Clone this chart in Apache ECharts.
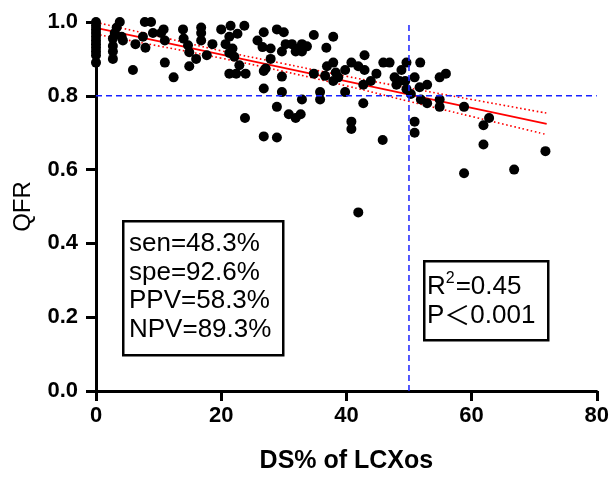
<!DOCTYPE html>
<html>
<head>
<meta charset="utf-8">
<script src="https://cdn.jsdelivr.net/npm/echarts@6/dist/echarts.min.js"></script>
<style>
html,body{margin:0;padding:0;background:#fff;}
#chart{width:612px;height:479px;}
</style>
</head>
<body>
<div id="chart"></div>
<script>
// DS% of LCXos (x) and QFR (y) for each lesion
const dsPct = [
  0,0,0,0,0,0,0,0,0,0,0,
  3.8,3.3,3.0,4.1,2.7,4.3,2.7,2.7,2.7,
  5.9,6.3,7.8,8.8,7.5,9.1,10.4,10.8,11.0,7.9,11.0,12.4,
  13.9,14.0,14.7,14.9,16.0,14.9,
  16.8,16.8,16.8,18.6,17.7,
  20.0,21.5,23.7,21.3,22.6,20.7,21.8,22.1,21.3,22.9,21.3,22.4,23.9,
  25.8,26.8,28.9,30.0,26.6,27.9,29.7,30.3,31.3,31.9,32.4,32.9,32.9,33.7,34.8,36.8,37.9,
  27.9,27.1,26.8,29.7,
  23.8,26.8,29.7,28.9,32.9,30.8,31.9,32.7,26.8,28.9,
  34.8,35.8,35.8,36.9,37.9,38.3,38.7,37.9,36.6,39.8,39.8,
  40.8,41.9,42.9,42.9,42.7,42.7,43.9,44.8,45.9,46.9,40.8,40.8,45.8,41.9,
  47.7,48.0,48.8,49.4,48.5,49.6,51.8,50.9,49.6,50.3,51.7,51.9,52.9,52.9,50.9,50.9,
  54.9,55.9,54.9,54.9,58.8,62.8,61.9,61.9,58.8,66.8,71.8
];
const qfr = [
  1.0,0.99,0.98,0.97,0.96,0.95,0.94,0.93,0.92,0.91,0.89,
  1.0,0.985,0.97,0.96,0.955,0.95,0.935,0.92,0.90,
  0.87,0.94,1.0,1.0,0.96,0.97,0.97,0.98,0.95,0.93,0.89,0.85,
  0.98,0.955,0.937,0.918,0.90,0.88,
  0.985,0.97,0.95,0.94,0.91,
  0.98,0.99,0.99,0.96,0.968,0.94,0.928,0.906,0.916,0.883,0.86,0.86,0.86,
  0.95,0.972,0.98,0.972,0.932,0.928,0.92,0.94,0.94,0.92,0.928,0.94,0.92,0.934,0.965,0.93,0.96,
  0.90,0.874,0.867,0.852,
  0.74,0.82,0.81,0.77,0.79,0.75,0.74,0.75,0.69,0.687,
  0.86,0.81,0.79,0.88,0.89,0.863,0.85,0.84,0.854,0.87,0.81,
  0.89,0.88,0.91,0.87,0.83,0.78,0.84,0.86,0.89,0.89,0.73,0.71,0.68,0.484,
  0.85,0.83,0.87,0.84,0.84,0.89,0.89,0.85,0.818,0.805,0.823,0.79,0.83,0.78,0.73,0.70,
  0.85,0.86,0.79,0.77,0.77,0.74,0.72,0.668,0.59,0.60,0.65
];

// Regression line and its confidence band
const fitX = [0, 72];
const fitY = [0.984, 0.724];
const bandX = [0, 10, 20, 30, 40, 50, 60, 72];
const bandUpper = [0.999, 0.961, 0.922, 0.887, 0.853, 0.821, 0.790, 0.753];
const bandLower = [0.967, 0.935, 0.902, 0.866, 0.827, 0.785, 0.744, 0.695];

// Cut-off reference lines
const cutoffDS = 50;
const cutoffQFR = 0.8;

// Axis ticks
const xTickLabels = ['0', '20', '40', '60', '80'];
const yTickLabels = ['0.0', '0.2', '0.4', '0.6', '0.8', '1.0'];

// Annotation texts
const statsLines = ['sen=48.3%', 'spe=92.6%', 'PPV=58.3%', 'NPV=89.3%'];
const r2Text = ['R', '2', '=0.45'];
const pText = ['P', '\uFF1C', '0.001'];

const points = dsPct.map((x, i) => [x, qfr[i]]);
const fitData = fitX.map((x, i) => [x, fitY[i]]);
const upperData = bandX.map((x, i) => [x, bandUpper[i]]);
const lowerData = bandX.map((x, i) => [x, bandLower[i]]);

const chart = echarts.init(document.getElementById('chart'), null, {renderer: 'canvas'});
const FONT = 'Liberation Sans, Arial, sans-serif';
const blue = '#1a22ff';

chart.setOption({
  animation: false,
  backgroundColor: '#ffffff',
  grid: {left: 96, right: 12, top: 22, bottom: 83, containLabel: false},
  xAxis: {
    type: 'value', min: 0, max: 80, interval: 20,
    name: 'DS% of LCXos', nameLocation: 'middle', nameGap: 58,
    nameTextStyle: {fontFamily: FONT, fontSize: 25, fontWeight: 'bold', color: '#000'},
    axisLine: {show: true, onZero: false, lineStyle: {color: '#000', width: 3}},
    axisTick: {show: true, length: 10, lineStyle: {color: '#000', width: 3}},
    axisLabel: {margin: 14, fontFamily: FONT, fontSize: 22, fontWeight: 'bold', color: '#000',
      formatter: v => xTickLabels[Math.round(v / 20)]},
    splitLine: {show: false}
  },
  yAxis: {
    type: 'value', min: 0, max: 1, interval: 0.2,
    name: 'QFR', nameLocation: 'middle', nameGap: 61, nameRotate: 90,
    nameTextStyle: {fontFamily: FONT, fontSize: 24, color: '#000'},
    axisLine: {show: true, onZero: false, lineStyle: {color: '#000', width: 3}},
    axisTick: {show: true, length: 10, lineStyle: {color: '#000', width: 3}},
    axisLabel: {margin: 18, fontFamily: FONT, fontSize: 22, fontWeight: 'bold', color: '#000',
      formatter: v => yTickLabels[Math.round(v / 0.2)]},
    splitLine: {show: false}
  },
  series: [
    {
      type: 'line', data: upperData, smooth: true, symbol: 'none', silent: true, z: 2,
      lineStyle: {color: '#ff0000', width: 1.6, type: [1.6, 2.6]}
    },
    {
      type: 'line', data: lowerData, smooth: true, symbol: 'none', silent: true, z: 2,
      lineStyle: {color: '#ff0000', width: 1.6, type: [1.6, 2.6]}
    },
    {
      type: 'line', data: fitData, symbol: 'none', silent: true, z: 2,
      lineStyle: {color: '#ff0000', width: 1.6}
    },
    {
      type: 'scatter', data: points, symbol: 'circle', symbolSize: 10, clip: false, z: 3,
      itemStyle: {color: '#000', opacity: 1}
    },
    {
      type: 'line', data: [[0, cutoffQFR], [80, cutoffQFR]], symbol: 'none', silent: true, z: 4,
      lineStyle: {color: blue, width: 1.5, type: [6, 4]}
    },
    {
      type: 'line', data: [[cutoffDS, 0], [cutoffDS, 1]], symbol: 'none', silent: true, z: 4,
      lineStyle: {color: blue, width: 1.5, type: [6, 4]}
    }
  ],
  graphic: [
    {
      type: 'rect', left: 122, top: 220, z: 10,
      shape: {width: 160, height: 134},
      style: {fill: '#fff', stroke: '#000', lineWidth: 2.5}
    },
    {
      type: 'text', left: 129, top: 230, z: 11,
      style: {text: statsLines.join('\n'), font: '26px ' + FONT, fill: '#000', lineHeight: 28.5}
    },
    {
      type: 'rect', left: 423, top: 260, z: 10,
      shape: {width: 124, height: 79},
      style: {fill: '#fff', stroke: '#000', lineWidth: 2.5}
    },
    {
      type: 'text', left: 427, top: 271, z: 11,
      style: {
        text: '{a|' + r2Text[0] + '}{s|' + r2Text[1] + '}{a|' + r2Text[2] + '}\n' +
              '{a|' + pText[0] + '}{c|' + pText[1] + '}{a|' + pText[2] + '}',
        fill: '#000',
        rich: {
          a: {fontFamily: FONT, fontSize: 26, lineHeight: 29, fill: '#000', color: '#000'},
          s: {fontFamily: FONT, fontSize: 16, lineHeight: 29, padding: [0, 1, 15, 0], fill: '#000', color: '#000'},
          c: {fontFamily: 'Noto Sans CJK SC', fontSize: 26, lineHeight: 29, fill: '#000', color: '#000'}
        }
      }
    }
  ]
});
</script>
</body>
</html>
